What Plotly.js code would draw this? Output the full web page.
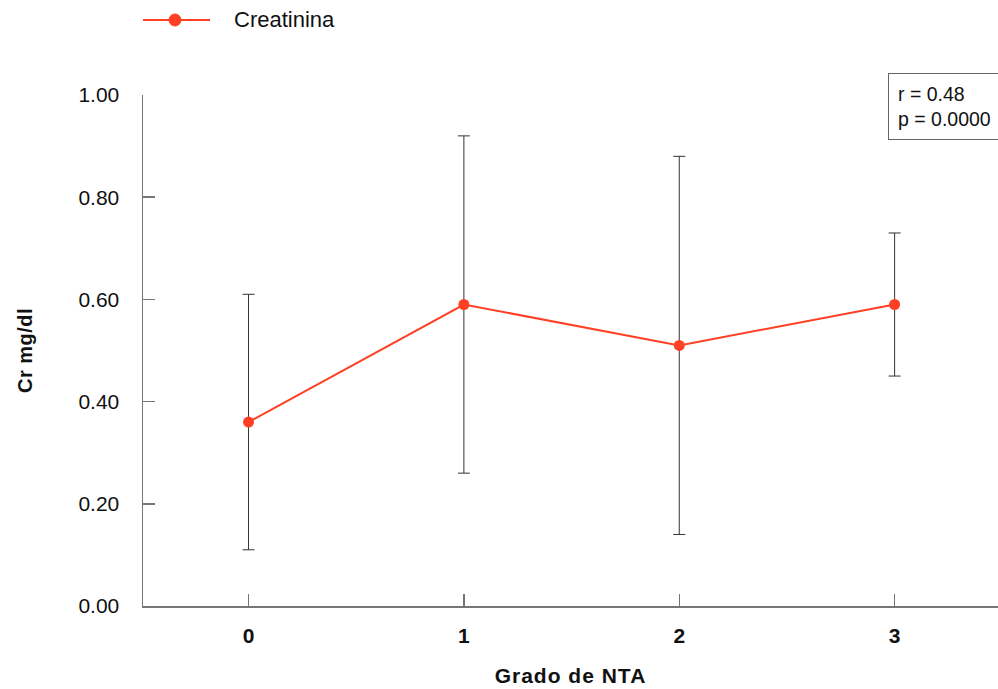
<!DOCTYPE html>
<html>
<head>
<meta charset="utf-8">
<script src="https://cdn.plot.ly/plotly-3.0.1.min.js"></script>
<style>
html,body{margin:0;padding:0;background:#fff;}
#chart{width:998px;height:689px;}
.xtitle{letter-spacing:1px;}
.ytitle{letter-spacing:0.5px;}
</style>
</head>
<body>
<div id="chart"></div>
<script>
const grades = [0, 1, 2, 3];
const creatinina = [0.36, 0.59, 0.51, 0.59];
const errorUp = [0.25, 0.33, 0.37, 0.14];
const errorDown = [0.25, 0.33, 0.37, 0.14];
const yTicks = [0, 0.2, 0.4, 0.6, 0.8, 1.0];
const yTickLabels = ["0.00", "0.20", "0.40", "0.60", "0.80", "1.00"];
const seriesName = "Creatinina";
const statsText = "r = 0.48<br>p = 0.0000";

const red = "rgb(255,64,36)";
const font = "Liberation Sans, Arial, sans-serif";
const axisGray = "#777";

const trace = {
  x: grades,
  y: creatinina,
  type: "scatter",
  mode: "lines+markers",
  name: seriesName,
  showlegend: false,
  line: {color: red, width: 2},
  marker: {color: red, size: 11},
  error_y: {
    type: "data", symmetric: false,
    array: errorUp, arrayminus: errorDown,
    color: "#333333", thickness: 1, width: 6
  }
};

// custom legend (line + marker + text) placed above the plot
const legY = 1.1468;
const layout = {
  width: 998, height: 689,
  margin: {l: 143, r: 0, t: 95, b: 83},
  paper_bgcolor: "#fff", plot_bgcolor: "#fff",
  font: {family: font, size: 21, color: "#111"},
  showlegend: false,
  xaxis: {
    range: [-0.49, 3.48], tickvals: grades, ticktext: grades.map(String),
    showgrid: false, zeroline: false, showline: true, linecolor: axisGray, linewidth: 1.5,
    ticks: "inside", ticklen: 12, tickcolor: axisGray, tickwidth: 1.5,
    ticklabelstandoff: 10,
    tickfont: {family: font, size: 21, color: "#111", weight: "bold"},
    title: {text: "<b>Grado de NTA</b>", font: {family: font, size: 21, color: "#111"}, standoff: 22}
  },
  yaxis: {
    range: [0, 1.0], tickvals: yTicks, ticktext: yTickLabels,
    showgrid: false, zeroline: false, showline: true, linecolor: axisGray, linewidth: 1.5,
    ticks: "inside", ticklen: 12, tickcolor: axisGray, tickwidth: 1.5,
    ticklabelstandoff: 18,
    tickfont: {family: font, size: 21, color: "#111"},
    title: {text: "<b>Cr mg/dl</b>", font: {family: font, size: 20, color: "#111"}, standoff: 40}
  },
  shapes: [
    {type: "line", xref: "paper", yref: "paper", x0: 0, x1: 0.0784, y0: legY, y1: legY,
     line: {color: red, width: 2}},
    {type: "circle", xref: "paper", yref: "paper", xsizemode: "pixel", ysizemode: "pixel",
     xanchor: 0.0374, yanchor: legY, x0: -6, x1: 6, y0: -6, y1: 6,
     fillcolor: red, line: {color: red, width: 1}}
  ],
  annotations: [
    {xref: "paper", yref: "paper", x: 0.1041, y: legY, xanchor: "left", yanchor: "middle",
     text: seriesName, showarrow: false, font: {family: font, size: 22, color: "#111"}},
    {xref: "paper", yref: "paper", x: 1.003, y: 1.043, xanchor: "right", yanchor: "top",
     text: statsText, align: "left", showarrow: false,
     font: {family: font, size: 19.5, color: "#111"},
     bordercolor: "#666", borderwidth: 1, borderpad: 9, bgcolor: "#fff"}
  ]
};

Plotly.newPlot("chart", [trace], layout, {displayModeBar: false, staticPlot: true});
</script>
</body>
</html>
